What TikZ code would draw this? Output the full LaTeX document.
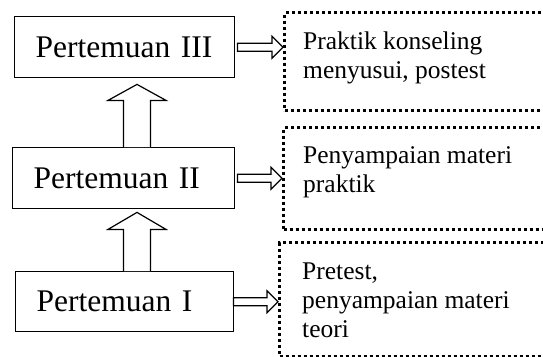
\documentclass[tikz,border=0pt]{standalone}
\usepackage{fontspec}
\setmainfont{Liberation Serif}
\usetikzlibrary{calc}
\begin{document}
\begin{tikzpicture}[x=1pt,y=-1pt,
  solidbox/.style={draw=black,line width=1.4pt,minimum height=61pt,inner ysep=0pt,
    inner xsep=21pt,align=left,font=\fontsize{31.5}{36}\selectfont,anchor=north west},
  dotbox/.style={draw=black,line width=3pt,dash pattern=on 3pt off 3pt,inner sep=0pt,anchor=north west},
  sidetext/.style={inner sep=0pt,anchor=north west,align=left,font=\fontsize{25.5}{29}\selectfont},
  blk/.style={draw=black,line width=1.2pt,fill=white,line join=miter}]
\useasboundingbox (0,0) rectangle (543,356);
% main boxes
\node[solidbox,text width=178pt] (b3) at (14,16) {Pertemuan III};
\node[solidbox,text width=180pt] (b2) at (12,147) {Pertemuan II};
\node[solidbox,text width=176pt,minimum height=60pt] (b1) at (15,271) {Pertemuan I};
% dotted boxes
\node[dotbox,minimum width=262pt,minimum height=98pt] (d3) at (283,11) {};
\node[dotbox,minimum width=263pt,minimum height=102pt] (d2) at (282,126) {};
\node[dotbox,minimum width=267pt,minimum height=114pt] (d1) at (278,241) {};
% side texts
\node[sidetext] (t3) at (303,31.5) {Praktik konseling\\menyusui, postest};
\node[sidetext] (t2) at (303,146.5) {Penyampaian materi\\praktik};
\node[sidetext] (t1) at (302,263) {Pretest,\\penyampaian materi\\teori};
% vertical block arrows
\coordinate (ax) at (137,0);
\path let \p1=($(b2.north -| ax)$), \p2=($(b3.south -| ax)$) in
  [blk] (\x1-13.5pt,\y1) -- (\x1-13.5pt,\y2-22pt) -- (\x1-29pt,\y2-22pt) -- (\x1,\y2-6pt)
  -- (\x1+29pt,\y2-22pt) -- (\x1+13.5pt,\y2-22pt) -- (\x1+13.5pt,\y1);
\path let \p1=($(b1.north -| ax)$), \p2=($(b2.south -| ax)$) in
  [blk] (\x1-13.5pt,\y1) -- (\x1-13.5pt,\y2-20pt) -- (\x1-29pt,\y2-20pt) -- (\x1,\y2-3pt)
  -- (\x1+29pt,\y2-20pt) -- (\x1+13.5pt,\y2-20pt) -- (\x1+13.5pt,\y1);
% horizontal block arrows
\path let \p1=(b3.east), \p2=(d3.west) in
  [blk] (\x1+2pt,\y1+4pt) -- (\x2-11pt,\y1+4pt) -- (\x2-11pt,\y1+11pt) -- (\x2,\y1)
  -- (\x2-11pt,\y1-11pt) -- (\x2-11pt,\y1-4pt) -- (\x1+2pt,\y1-4pt) -- cycle;
\path let \p1=(b2.east), \p2=(d2.west) in
  [blk] (\x1+2pt,\y1+4pt) -- (\x2-11pt,\y1+4pt) -- (\x2-11pt,\y1+11pt) -- (\x2,\y1)
  -- (\x2-11pt,\y1-11pt) -- (\x2-11pt,\y1-4pt) -- (\x1+2pt,\y1-4pt) -- cycle;
\path let \p1=(b1.east), \p2=(d1.west) in
  [blk] (\x1-1pt,\y1+4pt) -- (\x2-11pt,\y1+4pt) -- (\x2-11pt,\y1+11pt) -- (\x2,\y1)
  -- (\x2-11pt,\y1-11pt) -- (\x2-11pt,\y1-4pt) -- (\x1-1pt,\y1-4pt) -- cycle;
\end{tikzpicture}
\end{document}
